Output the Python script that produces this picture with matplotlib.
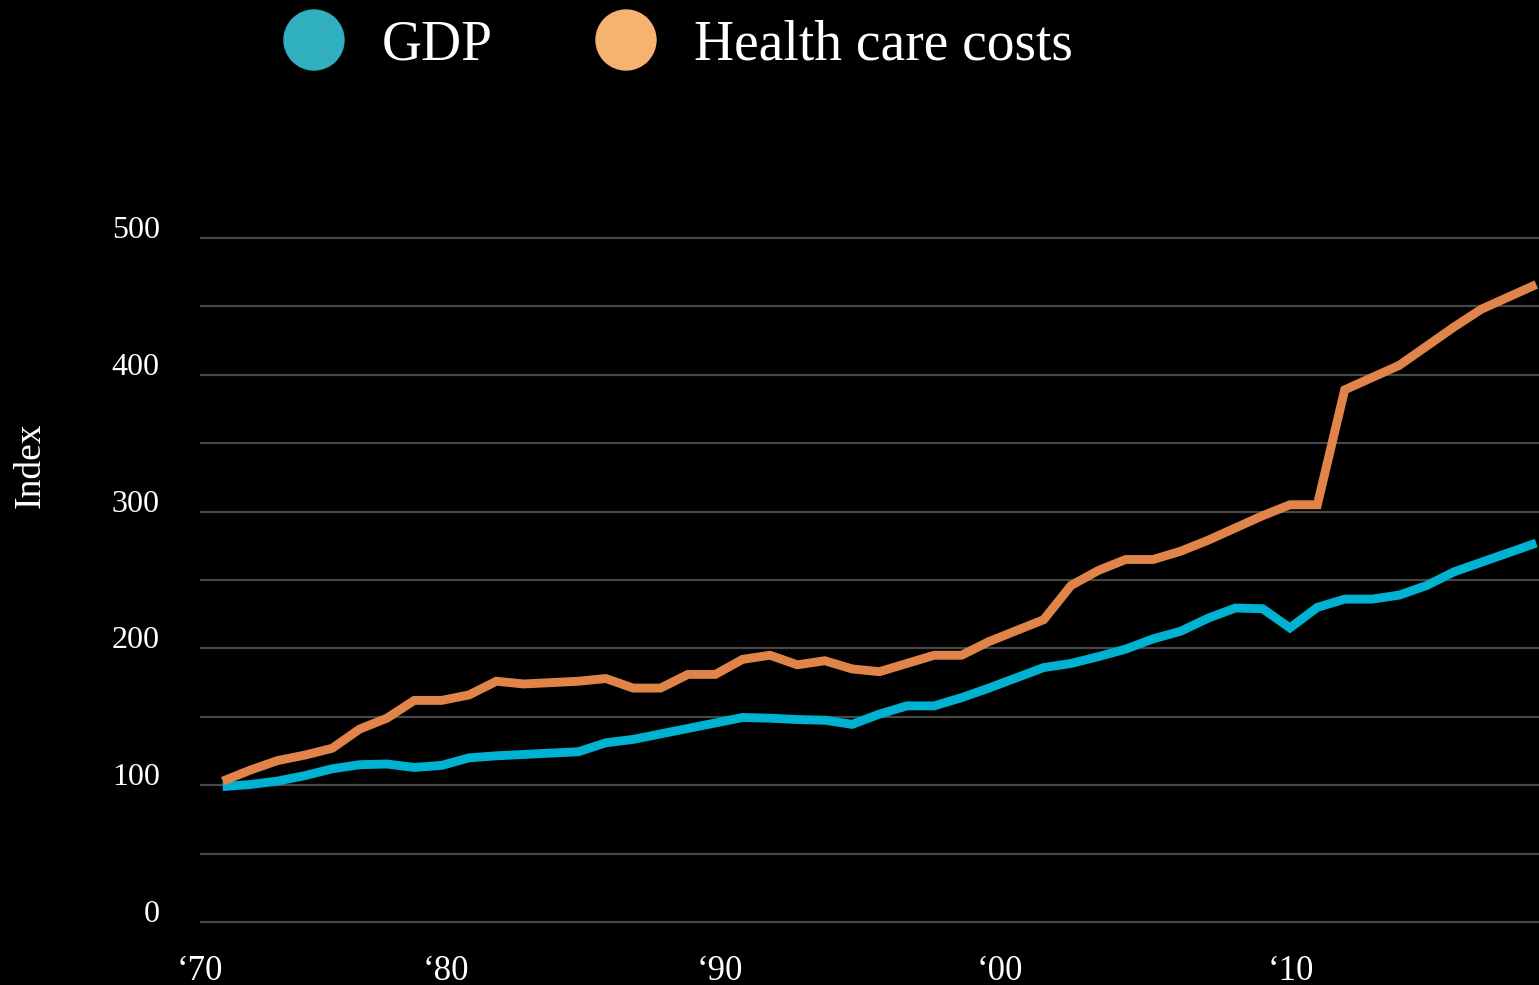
import matplotlib
matplotlib.use("Agg")
import matplotlib.pyplot as plt
from matplotlib.patches import Circle
import numpy as np

# data (index)
years = list(range(1970, 2019))
gdp = [99, 100.5, 103, 107, 112, 115, 115.5, 113, 114.5, 120,
       121.5, 122.5, 123.5, 124.5, 131, 133.5, 137.5, 141.5, 145.5, 149.5,
       149, 148, 147.5, 144.5, 152, 158, 158, 164, 171, 178.5,
       186, 189, 194, 199.5, 207, 212.5, 222, 229.5, 229, 215,
       230, 236, 236, 239, 246, 256, 263, 270, 277]
health = [103, 111, 118, 122, 127, 141, 149, 162, 162, 166,
          176, 174, 175, 176, 178, 171, 171, 181, 181, 192,
          195, 188, 191, 185, 183, 189, 195, 195, 205, 213,
          221, 246, 257, 265, 265, 271, 279, 288, 297, 305,
          305, 389, 398, 407, 421, 435, 448, 457, 466]

series_names = ["GDP", "Health care costs"]
line_colors = ["#00b2d1", "#e0844a"]
legend_colors = ["#2fafbf", "#f6b26f"]

ytick_vals = list(range(0, 501, 50))
ytick_labels = [str(v) if v % 100 == 0 else "" for v in ytick_vals]
xtick_labels = ["\u201870", "\u201880", "\u201890", "\u201800", "\u201810"]
xtick_pos = [1969.17, 1978.15, 1988.15, 1998.4, 2009.03]

plt.rcParams["font.family"] = ["Liberation Serif", "DejaVu Serif"]

W, H = 1539, 985
fig = plt.figure(figsize=(W / 100, H / 100), dpi=100, facecolor="black")

# main axes (pixel layout matched to reference)
ax = fig.add_axes([200 / W, (H - 949.4) / H, 1339 / W, 738.8 / H])
ax.set_facecolor("black")
ax.set_xlim(1970 - 13 / 27.625, 2018.1)
ax.set_ylim(-20, 520)

ax.plot(years, gdp, color=line_colors[0], lw=6.4, solid_joinstyle="miter",
        solid_capstyle="butt", zorder=3)
ax.plot(years, health, color=line_colors[1], lw=6.4, solid_joinstyle="miter",
        solid_capstyle="butt", zorder=4)

ax.set_yticks(ytick_vals)
ax.set_yticklabels(ytick_labels)
for lab in ax.get_yticklabels():
    lab.set_va("baseline")
ax.tick_params(axis="y", length=0, pad=29, labelsize=23, labelcolor="white")
ax.grid(axis="y", color="#474747", lw=1.6)
ax.set_axisbelow(True)

ax.set_xticks(xtick_pos)
ax.set_xticklabels(xtick_labels)
ax.tick_params(axis="x", length=0, pad=4, labelsize=25, labelcolor="white")

for s in ax.spines.values():
    s.set_visible(False)

fig.text(30 / W, 1 - 465 / H, "Index", rotation=90, color="white",
         fontsize=27, ha="center", va="center")

# legend drawn in pixel coordinates
lax = fig.add_axes([0, 0, 1, 1], facecolor="none")
lax.set_xlim(0, W)
lax.set_ylim(H, 0)
lax.set_axis_off()
leg_x = [314, 626]
for cx, name, col in zip(leg_x, series_names, legend_colors):
    lax.add_patch(Circle((cx, 40), 30, color=col))
    lax.text(cx + 68, 60, name, color="white", fontsize=40,
             ha="left", va="baseline")

fig.savefig("out.png", dpi=100, facecolor="black")
